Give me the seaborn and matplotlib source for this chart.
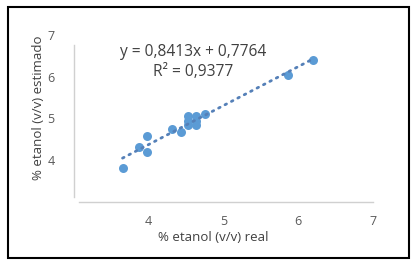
import matplotlib.pyplot as plt
import matplotlib.patches as patches
import numpy as np
import pandas as pd
import seaborn as sns

# datos
real = [3.65, 3.875, 3.98, 3.98, 4.31, 4.43, 4.52, 4.52, 4.52, 4.64, 4.64, 4.64, 4.75, 5.86, 6.20]
estimado = [3.80, 4.30, 4.20, 4.58, 4.74, 4.67, 4.84, 4.94, 5.06, 4.84, 4.94, 5.06, 5.10, 6.04, 6.40]
ticks = [4, 5, 6, 7]
ecuacion = "y = 0,8413x + 0,7764"
r2 = "R² = 0,9377"

df = pd.DataFrame({"real": real, "estimado": estimado})

sns.set_style("white")
plt.rcParams['font.family'] = ['Open Sans', 'DejaVu Sans']

fig = plt.figure(figsize=(4.17, 2.67), dpi=100)
ax = fig.add_axes([74 / 417, (267 - 201.6) / 267, 298.7 / 417, 166.6 / 267])

azul = '#5B9BD5'
sns.regplot(data=df, x="real", y="estimado", ax=ax, ci=None, truncate=True,
            scatter_kws={'s': 42, 'color': azul, 'alpha': 1, 'linewidths': 0},
            line_kws={'color': '#5580B8', 'linestyle': (0, (0.6, 2.0)), 'linewidth': 2.0,
                      'dash_capstyle': 'round'})

ax.set_xlim(3, 7)
ax.set_ylim(3, 7)
ax.set_xticks(ticks)
ax.set_yticks(ticks)
ax.tick_params(length=0, labelsize=9, colors='#595959', pad=10)
ax.tick_params(axis='y', pad=14)
for s in ['top', 'right']:
    ax.spines[s].set_visible(False)
for s in ['left', 'bottom']:
    ax.spines[s].set_color('#D0D0D0')
    ax.spines[s].set_linewidth(1.0)
ax.spines['left'].set_bounds(3.12, 6.76)
ax.spines['bottom'].set_bounds(3.07, 7)

ax.set_xlabel("% etanol (v/v) real", fontsize=9.5, color='#404040')
ax.set_ylabel("% etanol (v/v) estimado", fontsize=9.5, color='#404040')
ax.xaxis.set_label_coords((213 - 74) / 298.7, -(231 - 201.6) / 166.6)
ax.yaxis.set_label_coords(-(74 - 45) / 298.7, (201.6 - 108) / 166.6)

ax.text((193 - 74) / 298.7, (201.6 - 52) / 166.6, ecuacion, transform=ax.transAxes,
        ha='center', va='center', fontsize=11.2, color='#404040')
ax.text((193 - 74) / 298.7, (201.6 - 72) / 166.6, r2, transform=ax.transAxes,
        ha='center', va='center', fontsize=11.2, color='#404040')

fig.patches.append(patches.Rectangle((8 / 417, 1 - 258 / 267), 401 / 417, 251 / 267,
                                     transform=fig.transFigure, fill=False,
                                     edgecolor='black', linewidth=1.5))

fig.savefig('out.png', dpi=100)
